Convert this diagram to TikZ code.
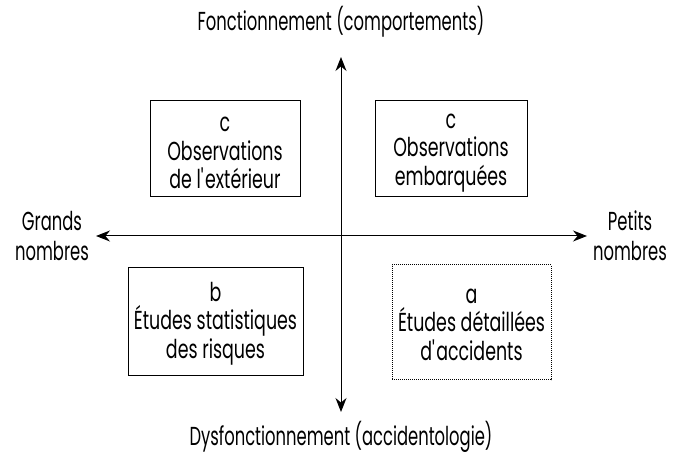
\documentclass[tikz,border=0pt]{standalone}
\usepackage{fontspec}
\setmainfont{Poppins}[FakeStretch=0.67]
\newfontfamily\axisfont{Poppins}[FakeStretch=0.63]
\usetikzlibrary{arrows.meta}
\begin{document}
\begin{tikzpicture}[x=1pt,y=-1pt,
  axis/.style={line width=1pt,-{Stealth[length=14pt,width=11pt]}},
  quad/.style={draw,line width=1pt,inner sep=0pt},
  qtext/.style={align=center,font=\fontsize{26}{28.5}\selectfont,inner sep=0pt},
  lbl/.style={align=center,font=\axisfont\fontsize{26}{30}\selectfont}]
\useasboundingbox (0,0) rectangle (678,454);
% axes
\coordinate (top) at (341,57);
\coordinate (bot) at (341,412);
\coordinate (lft) at (96,236);
\coordinate (rgt) at (587,236);
\coordinate (ctr) at (341,236);
\draw[axis] (ctr) -- (top);
\draw[axis] (ctr) -- (bot);
\draw[axis] (ctr) -- (lft);
\draw[axis] (ctr) -- (rgt);
% axis labels
\node[lbl] (ltop) at (341,22) {Fonctionnement (comportements)};
\node[lbl] (lbot) at (341,437) {Dysfonctionnement (accidentologie)};
\node[lbl] (llft) at (52,236) {Grands\\nombres};
\node[lbl] (lrgt) at (630,236) {Petits\\nombres};
% quadrant boxes
\node[quad,minimum width=150pt,minimum height=96pt] (q1) at (225,149) {};
\node[quad,minimum width=152pt,minimum height=96pt] (q2) at (451,149) {};
\node[quad,minimum width=175pt,minimum height=108pt] (q3) at (215.5,321.5) {};
\node[quad,densely dotted,minimum width=159pt,minimum height=115pt] (q4) at (471.5,322.5) {};
% quadrant texts
\node[qtext] (t1) at ([yshift=-4pt]q1.center) {c\\Observations\\de l\textquotesingle extérieur};
\node[qtext] (t2) at ([yshift=-4pt]q2.center) {c\\Observations\\embarquées};
\node[qtext] (t3) at ([yshift=-2pt]q3.center) {b\\Études statistiques\\des risques};
\node[qtext] (t4) at ([yshift=-2pt]q4.center) {a\\Études détaillées\\d\textquotesingle accidents};
\end{tikzpicture}
\end{document}
